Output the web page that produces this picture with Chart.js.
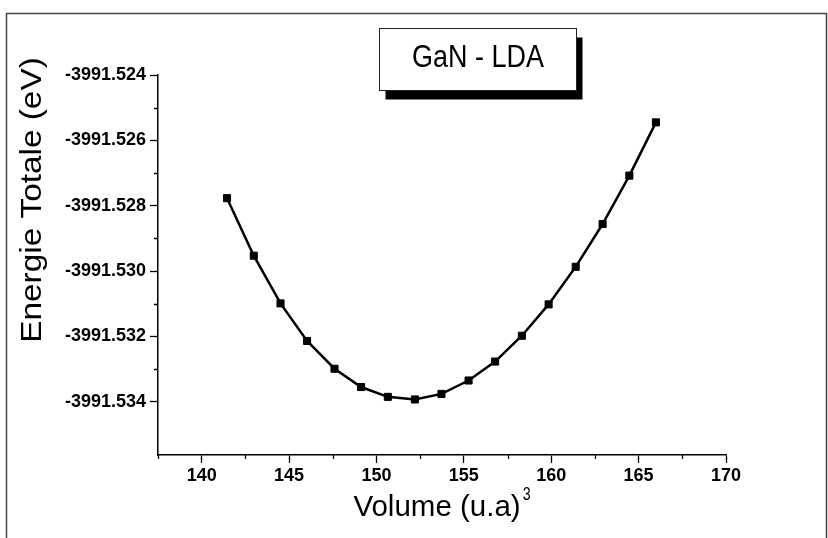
<!DOCTYPE html>
<html>
<head>
<meta charset="utf-8">
<script src="https://cdn.jsdelivr.net/npm/chart.js@4/dist/chart.umd.min.js"></script>
<style>
  html, body { margin: 0; padding: 0; background: #fff; }
  #wrap { width: 828px; height: 538px; position: relative; }
  canvas { display: block; }
</style>
</head>
<body>
<div id="wrap"><canvas id="chart" width="828" height="538"></canvas></div>
<script>
// Unit-cell volume (u.a)^3 and total energy (eV) for GaN, LDA
const volumes = [141.45, 142.98, 144.51, 146.03, 147.60, 149.12, 150.65, 152.20, 153.72,
                 155.27, 156.79, 158.32, 159.85, 161.40, 162.94, 164.47, 165.99];
const energies = [-3991.52777, -3991.52953, -3991.53099, -3991.53214, -3991.53299, -3991.53355,
                  -3991.53385, -3991.53393, -3991.53376, -3991.53335, -3991.53277, -3991.53198,
                  -3991.53102, -3991.52987, -3991.52856, -3991.52708, -3991.52545];

// Axis ticks
const xTicks = [140, 145, 150, 155, 160, 165, 170];
const xMinorTicks = [137.5, 142.5, 147.5, 152.5, 157.5, 162.5, 167.5];
const yTicks = [-3991.534, -3991.532, -3991.530, -3991.528, -3991.526, -3991.524];
const yMinorTicks = [-3991.533, -3991.531, -3991.529, -3991.527, -3991.525];

// Texts
const seriesLabel = 'GaN - LDA';
const xTitle = 'Volume (u.a)';
const xTitleSup = '3';
const yTitle = 'Energie Totale (eV)';

const TITLE_FONT = '"Liberation Sans", Arial, sans-serif';

function drawScaledText(ctx, text, x, y, size, sx, angle, align) {
  ctx.save();
  ctx.translate(x, y);
  if (angle) ctx.rotate(angle);
  ctx.scale(sx, 1);
  ctx.font = size + 'px ' + TITLE_FONT;
  ctx.textAlign = align || 'center';
  ctx.textBaseline = 'alphabetic';
  ctx.fillStyle = '#000';
  ctx.fillText(text, 0, 0);
  ctx.restore();
}

const decorations = {
  id: 'decorations',
  beforeDraw(chart) {
    const ctx = chart.ctx;
    ctx.save();
    ctx.fillStyle = '#fff';
    ctx.fillRect(0, 0, chart.width, chart.height);
    ctx.restore();
  },
  afterDraw(chart) {
    const ctx = chart.ctx;
    const xs = chart.scales.x, ys = chart.scales.y;
    const area = chart.chartArea;

    // minor ticks, pointing outward
    ctx.save();
    ctx.strokeStyle = '#000';
    ctx.lineWidth = 1.3;
    ctx.beginPath();
    xMinorTicks.forEach(v => {
      const px = Math.round(xs.getPixelForValue(v)) + 0.5;
      ctx.moveTo(px, area.bottom);
      ctx.lineTo(px, area.bottom + 4);
    });
    yMinorTicks.forEach(v => {
      const py = Math.round(ys.getPixelForValue(v)) + 0.5;
      ctx.moveTo(area.left - 4, py);
      ctx.lineTo(area.left, py);
    });
    ctx.stroke();
    ctx.restore();

    // page frame
    ctx.save();
    ctx.strokeStyle = '#444';
    ctx.lineWidth = 1.5;
    ctx.beginPath();
    ctx.moveTo(6.5, chart.height);
    ctx.lineTo(6.5, 13.5);
    ctx.lineTo(826.5, 13.5);
    ctx.lineTo(826.5, chart.height);
    ctx.stroke();
    ctx.restore();

    // x title with superscript, centred on the axis
    const cx = (area.left + area.right) / 2;
    ctx.save();
    ctx.font = '29.5px ' + TITLE_FONT;
    const mainW = ctx.measureText(xTitle).width;
    ctx.font = '19px ' + TITLE_FONT;
    const supW = ctx.measureText(xTitleSup).width * 0.75;
    ctx.restore();
    const startX = cx - (mainW + supW + 2) / 2;
    drawScaledText(ctx, xTitle, startX, 516, 29.5, 1, 0, 'left');
    drawScaledText(ctx, xTitleSup, startX + mainW + 2, 500, 19, 0.75, 0, 'left');

    // y title, rotated
    drawScaledText(ctx, yTitle, 41, 200, 29, 1.15, -Math.PI / 2, 'center');

    // boxed series label with drop shadow
    const bx = 379.5, by = 28.5, bw = 197, bh = 62;
    ctx.save();
    ctx.fillStyle = '#000';
    ctx.fillRect(bx + 6, by + 9, bw, bh);
    ctx.fillStyle = '#fff';
    ctx.fillRect(bx, by, bw, bh);
    ctx.strokeStyle = '#222';
    ctx.lineWidth = 1;
    ctx.strokeRect(bx, by, bw, bh);
    ctx.restore();
    drawScaledText(ctx, seriesLabel, bx + bw / 2, 67, 31, 0.87, 0, 'center');
  }
};

const tickFont = { family: '"Liberation Sans", Arial, sans-serif', weight: 'bold', size: 18 };

new Chart(document.getElementById('chart'), {
  type: 'line',
  data: {
    datasets: [{
      label: seriesLabel,
      data: volumes.map((v, i) => ({ x: v, y: energies[i] })),
      borderColor: '#000',
      borderWidth: 2.5,
      backgroundColor: '#000',
      pointStyle: 'rect',
      pointRadius: 5,
      pointBorderWidth: 1,
      pointBackgroundColor: '#000',
      pointBorderColor: '#000',
      tension: 0,
      fill: false
    }]
  },
  options: {
    responsive: false,
    devicePixelRatio: 1,
    animation: false,
    layout: { padding: { top: 75, right: 102, left: 0, bottom: 0 } },
    plugins: { legend: { display: false }, tooltip: { enabled: false } },
    scales: {
      x: {
        type: 'linear',
        position: 'bottom',
        min: 137.5,
        max: 170,
        afterBuildTicks: s => { s.ticks = xTicks.map(v => ({ value: v })); },
        afterFit: s => { s.height = 83; },
        ticks: {
          font: tickFont, color: '#000', padding: 2, maxRotation: 0, autoSkip: false,
          callback: v => String(v)
        },
        grid: { drawOnChartArea: false, drawTicks: true, tickLength: 8, tickColor: '#000', tickWidth: 1.3 },
        border: { display: true, color: '#000', width: 1.5 }
      },
      y: {
        type: 'linear',
        position: 'left',
        min: -3991.53563,
        max: -3991.524,
        afterBuildTicks: s => { s.ticks = yTicks.map(v => ({ value: v })); },
        afterFit: s => { s.width = 158; },
        ticks: {
          font: tickFont, color: '#000', padding: 4, autoSkip: false,
          callback: v => v.toFixed(3)
        },
        grid: { drawOnChartArea: false, drawTicks: true, tickLength: 8, tickColor: '#000', tickWidth: 1.3 },
        border: { display: true, color: '#000', width: 1.5 }
      }
    }
  },
  plugins: [decorations]
});
</script>
</body>
</html>
